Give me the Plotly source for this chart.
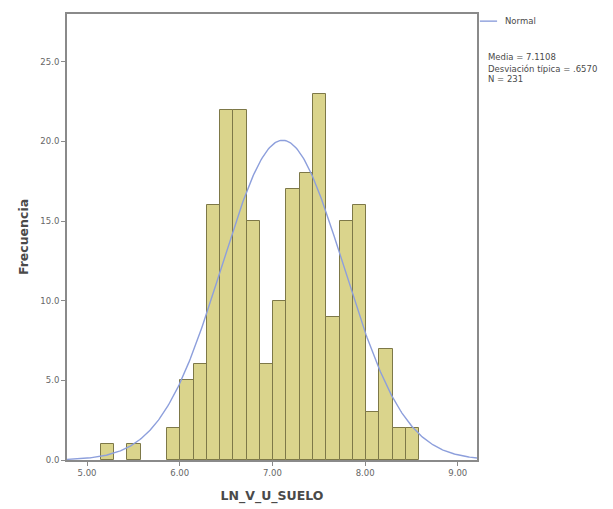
import numpy as np
import plotly.graph_objects as go

# Histogram data
bin_start = 5.148
bin_width = 0.1431
counts = [1, 0, 1, 0, 0, 2, 5, 6, 16, 22, 22, 15, 6, 10, 17, 18, 23, 9, 15, 16, 3, 7, 2, 2]

mean_val = 7.1108
sd_val = 0.657
n_val = 231

x_tickvals = [5.0, 6.0, 7.0, 8.0, 9.0]
x_ticktext = ["5.00", "6.00", "7.00", "8.00", "9.00"]
y_tickvals = [0, 5, 10, 15, 20, 25]
y_ticktext = ["0.0", "5.0", "10.0", "15.0", "20.0", "25.0"]

x_range = [4.784, 9.207]
y_range = [0, 28]

centers = [bin_start + bin_width * (i + 0.5) for i in range(len(counts))]
xs = [c for c, v in zip(centers, counts) if v > 0]
ys = [v for v in counts if v > 0]

xc = np.linspace(x_range[0], x_range[1], 400)
yc = n_val * bin_width / (sd_val * np.sqrt(2 * np.pi)) * np.exp(-0.5 * ((xc - mean_val) / sd_val) ** 2)

FONT = "DejaVu Sans"
TXT = "#4a4a4a"

fig = go.Figure()
fig.add_trace(go.Bar(x=xs, y=ys, width=bin_width,
                     marker=dict(color="#dad48c", line=dict(color="#7d7848", width=1)),
                     showlegend=False))
fig.add_trace(go.Scatter(x=xc, y=yc, mode="lines", line=dict(color="#8d9fdc", width=1.4),
                         showlegend=False))

axis_common = dict(showline=True, linecolor="#8a8a8a", linewidth=2, mirror=True,
                   showgrid=False, zeroline=False, ticks="outside", ticklen=4,
                   tickcolor="#8a8a8a", tickfont=dict(family=FONT, size=8.5, color="#666"))

fig.update_layout(
    width=605, height=501,
    margin=dict(l=59, r=136, t=4, b=49),
    paper_bgcolor="white", plot_bgcolor="white",
    bargap=0,
    xaxis=dict(range=x_range, tickvals=x_tickvals, ticktext=x_ticktext,
               title=dict(text="<b>LN_V_U_SUELO</b>", font=dict(family=FONT, size=12.5, color=TXT), standoff=14),
               **axis_common),
    yaxis=dict(range=y_range, tickvals=y_tickvals, ticktext=y_ticktext,
               title=dict(text="<b>Frecuencia</b>", font=dict(family=FONT, size=12.5, color=TXT), standoff=9),
               **axis_common),
    shapes=[dict(type="line", xref="paper", yref="paper", x0=1.007, x1=1.049, y0=0.984, y1=0.984,
                 line=dict(color="#8d9fdc", width=1.4))],
    annotations=[
        dict(xref="paper", yref="paper", x=1.063, y=0.984, xanchor="left", yanchor="middle",
             text="Normal", showarrow=False, font=dict(family=FONT, size=8.5, color=TXT)),
        dict(xref="paper", yref="paper", x=1.022, y=0.904, xanchor="left", yanchor="middle",
             text="Media = 7.1108", showarrow=False, font=dict(family=FONT, size=8.5, color=TXT)),
        dict(xref="paper", yref="paper", x=1.022, y=0.877, xanchor="left", yanchor="middle",
             text="Desviación típica = .6570", showarrow=False, font=dict(family=FONT, size=8.5, color=TXT)),
        dict(xref="paper", yref="paper", x=1.022, y=0.855, xanchor="left", yanchor="middle",
             text="N = 231", showarrow=False, font=dict(family=FONT, size=8.5, color=TXT)),
    ],
)
fig.write_html("out.html")
